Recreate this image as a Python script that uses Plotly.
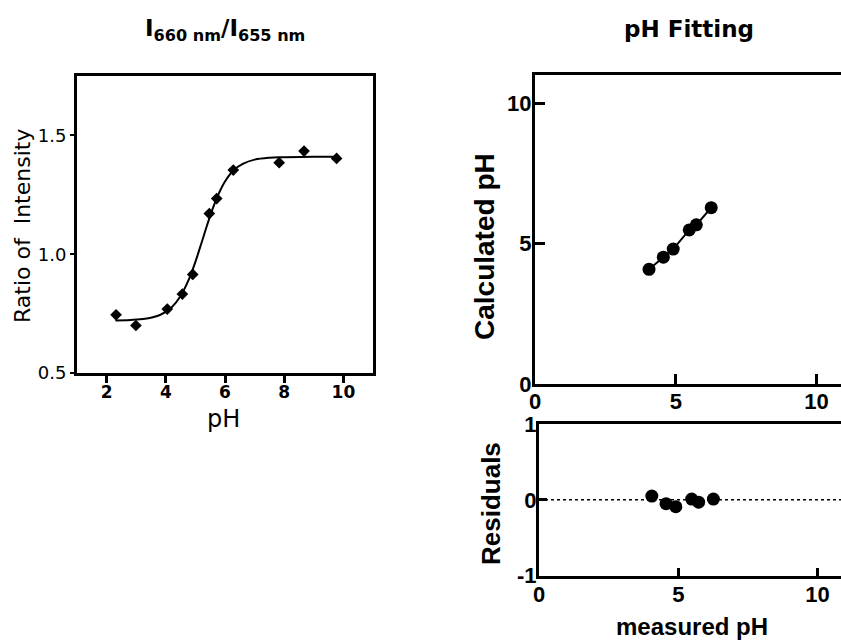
import plotly.graph_objects as go

# ---- data: left panel (ratio vs pH) ----
ph = [2.32, 2.99, 4.05, 4.56, 4.91, 5.47, 5.72, 6.28, 7.83, 8.67, 9.77]
ratio = [0.745, 0.700, 0.769, 0.832, 0.915, 1.171, 1.234, 1.354, 1.385, 1.434, 1.403]
curve_ph = [2.3, 2.8, 3.3, 3.8, 4.2, 4.5, 4.8, 5.0, 5.2, 5.4, 5.6, 5.8, 6.0, 6.3, 6.6, 7.0, 7.5, 8.0, 9.0, 9.8]
curve_ratio = [0.721, 0.723, 0.728, 0.744, 0.777, 0.824, 0.900, 0.968, 1.045, 1.124, 1.197, 1.258,
               1.306, 1.354, 1.380, 1.398, 1.406, 1.408, 1.410, 1.410]

# ---- data: right panels (pH fitting) ----
measured_ph = [4.05, 4.56, 4.91, 5.48, 5.73, 6.26]
calculated_ph = [4.09, 4.52, 4.81, 5.49, 5.67, 6.28]
residuals = [0.05, -0.05, -0.09, 0.01, -0.03, 0.01]

left_yticks = [0.5, 1.0, 1.5]
left_xticks = [2, 4, 6, 8, 10]
right_ticks = [0, 5, 10]
resid_ticks = [-1, 0, 1]
resid_ticktext = ["-1", "0", "1"]

W, H = 841, 641
def px(x):
    return x / W
def py(y):
    return 1 - y / H

DJ = "DejaVu Sans"
LB = "Liberation Sans"

fig = go.Figure()

fig.add_trace(go.Scatter(x=curve_ph, y=curve_ratio, mode="lines", line=dict(color="black", width=2, shape="spline"),
                         xaxis="x", yaxis="y", showlegend=False, hoverinfo="skip"))
fig.add_trace(go.Scatter(x=ph, y=ratio, mode="markers", marker=dict(symbol="diamond", size=9, color="black"),
                         xaxis="x", yaxis="y", showlegend=False))

fig.add_trace(go.Scatter(x=measured_ph, y=calculated_ph, mode="lines+markers",
                         line=dict(color="black", width=2), marker=dict(symbol="circle", size=13, color="black"),
                         xaxis="x2", yaxis="y2", showlegend=False))

fig.add_trace(go.Scatter(x=measured_ph, y=residuals, mode="markers",
                         marker=dict(symbol="circle", size=13, color="black"),
                         xaxis="x3", yaxis="y3", showlegend=False))

axis_common = dict(showgrid=False, zeroline=False, showline=True, linecolor="black", linewidth=3,
                   tickcolor="black", automargin=False)

fig.update_layout(
    template="none",
    width=W, height=H, margin=dict(l=0, r=0, t=0, b=0, pad=0, autoexpand=False),
    paper_bgcolor="white", plot_bgcolor="white",
    xaxis=dict(axis_common, domain=[px(77), px(373)], range=[1, 11], anchor="y", mirror=True,
               tickvals=left_xticks, ticks="outside", ticklen=7, tickwidth=3, ticklabelstandoff=-5,
               tickfont=dict(family=DJ, size=17, color="black", weight="bold")),
    yaxis=dict(axis_common, domain=[py(373), py(76)], range=[0.5, 1.75], anchor="x", mirror=True,
               tickvals=left_yticks, tickformat=".1f", ticks="outside", ticklen=4, tickwidth=2,
               tickfont=dict(family=DJ, size=18, color="black")),
    xaxis2=dict(axis_common, domain=[px(535), 1.0], range=[0, 10.87], anchor="y2", mirror=True,
                tickvals=right_ticks, ticks="inside", ticklen=10, tickwidth=3, ticklabelstandoff=-5,
                tickfont=dict(family=LB, size=22, color="black", weight="bold")),
    yaxis2=dict(axis_common, domain=[py(384.3), py(75)], range=[0, 11], anchor="x2",
                tickvals=right_ticks, ticks="inside", ticklen=10, tickwidth=3, ticklabelstandoff=-4,
                tickfont=dict(family=LB, size=22, color="black", weight="bold")),
    xaxis3=dict(axis_common, domain=[px(539), 1.0], range=[0, 10.84], anchor="y3", mirror=True,
                tickvals=right_ticks, ticks="inside", ticklen=8, tickwidth=3, ticklabelstandoff=-3,
                tickfont=dict(family=LB, size=22, color="black", weight="bold")),
    yaxis3=dict(axis_common, domain=[py(575.7), py(424)], range=[-1, 1], anchor="x3",
                tickvals=resid_ticks, ticktext=resid_ticktext, ticks="inside", ticklen=8, tickwidth=3,
                ticklabelstandoff=-5,
                tickfont=dict(family=LB, size=22, color="black", weight="bold")),
)

fig.add_shape(type="line", xref="x3 domain", yref="y3", x0=0, x1=1, y0=0, y1=0,
              line=dict(color="black", width=1.5, dash="dot"), layer="below")

def ann(text, x, y, size, family, bold=False, angle=0):
    fig.add_annotation(text=text, x=px(x), y=py(y), xref="paper", yref="paper", showarrow=False,
                       xanchor="center", yanchor="middle", textangle=angle,
                       font=dict(family=family, size=size, color="black", weight="bold" if bold else "normal"))

ann("I<sub>660 nm</sub>/I<sub>655 nm</sub>", 225, 30, 23, DJ, bold=True)
ann("pH Fitting", 689, 29, 23, DJ, bold=True)
ann("Ratio of  Intensity", 23, 226, 22, DJ, angle=-90)
ann("pH", 223, 419, 24, DJ)
ann("Calculated pH", 484, 247, 28, LB, bold=True, angle=-90)
ann("Residuals", 491, 504, 26, LB, bold=True, angle=-90)
ann("measured pH", 692, 626, 24, LB, bold=True)

fig.write_html("out.html")
